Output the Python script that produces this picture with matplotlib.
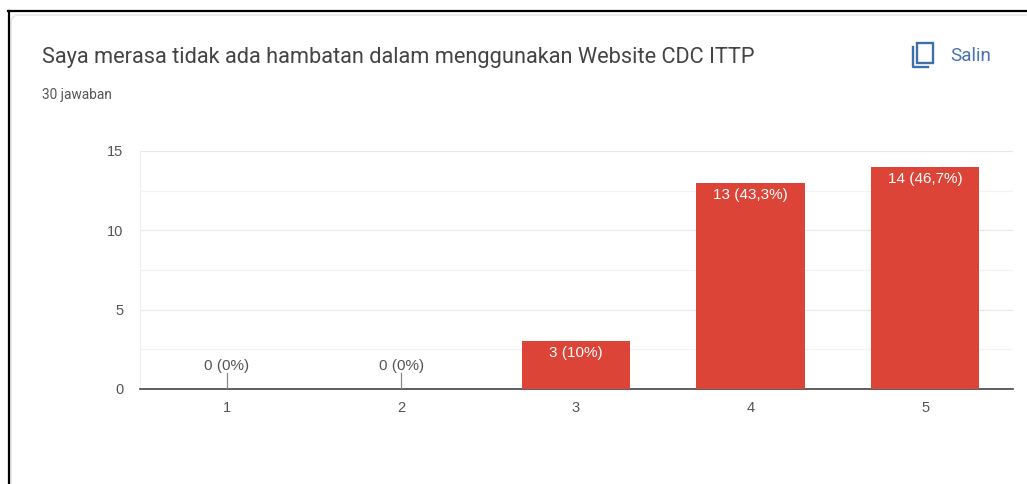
import matplotlib
matplotlib.use("Agg")
import matplotlib.pyplot as plt
from matplotlib.lines import Line2D
from matplotlib.patches import FancyBboxPatch, Rectangle

W, H = 1027, 484

# data
categories = ["1", "2", "3", "4", "5"]
counts = [0, 0, 3, 13, 14]
labels = ["0 (0%)", "0 (0%)", "3 (10%)", "13 (43,3%)", "14 (46,7%)"]
y_ticks = [0, 5, 10, 15]
y_minor = [2.5, 7.5, 12.5]

title = "Saya merasa tidak ada hambatan dalam menggunakan Website CDC ITTP"
subtitle = "30 jawaban"

RED = "#db4437"
GREY = "#555555"


def px(x, y):
    # pixel from the top left -> figure fraction
    return x / W, 1 - y / H


fig = plt.figure(figsize=(W / 100, H / 100), dpi=100)

# card and black frame
bg = fig.add_axes([0, 0, 1, 1], zorder=0)
bg.set_xlim(0, W)
bg.set_ylim(H, 0)
bg.axis("off")
bg.add_patch(FancyBboxPatch((11, 15), 1030, 500, boxstyle="round,pad=0,rounding_size=8",
                            fc="white", ec="#e8e8e8", lw=1.2))
bg.add_line(Line2D([8.5, 8.5], [11, H], color="black", lw=1.6))
bg.add_line(Line2D([8, W], [11, 11], color="black", lw=1.6))

# copy icon
bg.add_patch(Rectangle((917, 43), 15.5, 19.5, fc="none", ec="#3f6fa8", lw=1.7))
bg.add_line(Line2D([912.5, 912.5, 928], [47, 67, 67], color="#3f6fa8", lw=1.7))

# chart
ax = fig.add_axes([139.5 / W, 1 - 389 / H, (1012.5 - 139.5) / W, (389 - 151) / H], zorder=1)
ax.patch.set_alpha(0)
xs = list(range(1, len(categories) + 1))
ax.bar(xs, counts, width=0.62, color=RED, zorder=3)
ax.set_xlim(0.5, 5.5)
ax.set_ylim(0, 15)

ax.set_xticks(xs, categories)
ax.set_yticks(y_ticks)
ax.set_yticks(y_minor, minor=True)
ax.tick_params(axis="both", which="both", length=0)
ax.tick_params(axis="x", pad=8.5, labelsize=10.5, labelcolor=GREY)
ax.tick_params(axis="y", pad=11.5, labelsize=10.5, labelcolor=GREY)
for lab in ax.get_xticklabels() + ax.get_yticklabels():
    lab.set_fontfamily("Liberation Sans")

ax.grid(axis="y", which="major", color="#e9e9e9", lw=0.9, zorder=0)
ax.grid(axis="y", which="minor", color="#f3f3f3", lw=0.9, zorder=0)
ax.set_axisbelow(True)
for s in ["top", "right"]:
    ax.spines[s].set_visible(False)
ax.spines["left"].set_color("#eeeeee")
ax.spines["bottom"].set_color("#444444")
ax.spines["bottom"].set_linewidth(1.2)

# value labels
for x, c, lab in zip(xs, counts, labels):
    if c == 0:
        ax.plot([x, x], [0, 1], color="#888888", lw=0.9, zorder=4)
        ax.annotate(lab, (x, 1), xytext=(0, 0), textcoords="offset points", ha="center", va="bottom",
                    fontsize=11, color=GREY, family="Liberation Sans")
    else:
        ax.annotate(lab, (x, c), xytext=(0, -3.5), textcoords="offset points", ha="center", va="top",
                    fontsize=11, color="white", family="Liberation Sans", zorder=5)

# header text
fig.text(*px(42, 57), title, fontsize=15.65, color="#444444", family="Roboto", va="center")
fig.text(*px(42, 95), subtitle, fontsize=9.8, color="#555555", family="Roboto", va="center")
fig.text(*px(950, 56), "Salin", fontsize=13.6, color="#4a74b0", family="Roboto", va="center")

fig.savefig("out.png", dpi=100)
